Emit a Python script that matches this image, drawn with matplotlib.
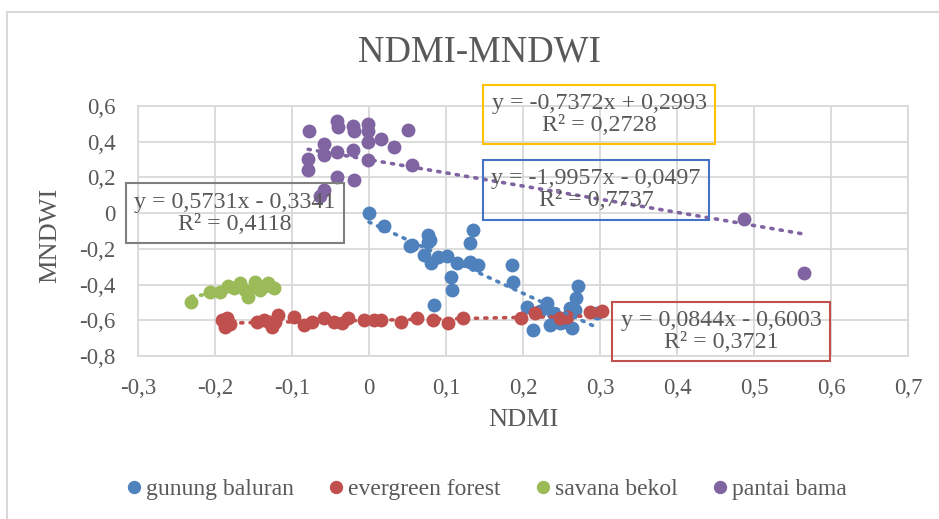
import numpy as np
import matplotlib
matplotlib.use('Agg')
import matplotlib.pyplot as plt
from matplotlib.patches import Rectangle
from matplotlib.ticker import FuncFormatter, MultipleLocator
from matplotlib.lines import Line2D

plt.rcParams['font.family'] = ['Liberation Serif', 'DejaVu Serif']

# series values
series_names = ['gunung baluran', 'evergreen forest', 'savana bekol', 'pantai bama']
series_colors = ['#4F81BD', '#C0504D', '#9BBB59', '#8064A2']

x_gb = [0.000, 0.020, 0.053, 0.056, 0.071, 0.076, 0.077, 0.079, 0.081, 0.084, 0.090, 0.101,
        0.106, 0.108, 0.114, 0.131, 0.131, 0.135, 0.141, 0.186, 0.187, 0.205, 0.213, 0.222,
        0.231, 0.235, 0.239, 0.242, 0.248, 0.252, 0.261, 0.263, 0.268, 0.269, 0.272, 0.296]
y_gb = [0.002, -0.072, -0.184, -0.180, -0.235, -0.123, -0.160, -0.150, -0.281, -0.514, -0.244, -0.240,
        -0.356, -0.430, -0.281, -0.272, -0.166, -0.095, -0.291, -0.290, -0.384, -0.523, -0.654, -0.550,
        -0.505, -0.626, -0.560, -0.570, -0.616, -0.607, -0.532, -0.644, -0.542, -0.477, -0.410, -0.560]

x_ef = [-0.191, -0.187, -0.185, -0.180, -0.146, -0.137, -0.130, -0.126, -0.122, -0.118, -0.098,
        -0.085, -0.074, -0.059, -0.046, -0.035, -0.027, -0.007, 0.006, 0.016, 0.042, 0.062,
        0.083, 0.102, 0.122, 0.197, 0.216, 0.248, 0.257, 0.287, 0.302]
y_ef = [-0.601, -0.635, -0.588, -0.620, -0.607, -0.598, -0.612, -0.635, -0.607, -0.570, -0.579,
        -0.626, -0.607, -0.588, -0.607, -0.616, -0.588, -0.601, -0.598, -0.601, -0.607, -0.588,
        -0.601, -0.616, -0.588, -0.588, -0.560, -0.588, -0.579, -0.555, -0.547]

x_sb = [-0.231, -0.206, -0.194, -0.183, -0.175, -0.168, -0.161, -0.157, -0.148, -0.146, -0.142,
        -0.135, -0.131, -0.124]
y_sb = [-0.495, -0.443, -0.440, -0.408, -0.420, -0.393, -0.430, -0.468, -0.384, -0.412, -0.430,
        -0.410, -0.393, -0.420]

x_pb = [-0.078, -0.042, -0.040, -0.021, -0.020, -0.001, -0.001, 0.050, -0.058, -0.059, -0.042,
        -0.021, -0.001, 0.016, 0.032, -0.079, -0.001, 0.056, -0.079, -0.042, -0.020, -0.058,
        -0.064, 0.487, 0.565]
y_pb = [0.460, 0.516, 0.480, 0.486, 0.460, 0.500, 0.460, 0.464, 0.390, 0.324, 0.342,
        0.356, 0.400, 0.417, 0.370, 0.305, 0.296, 0.268, 0.240, 0.203, 0.188, 0.128,
        0.095, -0.035, -0.333]

# trendline coefficients as printed on the chart
slopes = [-1.9957, 0.0844, 0.5731, -0.7372]
intercepts = [-0.0497, -0.6003, -0.3341, 0.2993]
r2 = [0.7737, 0.3721, 0.4118, 0.2728]

xs = [x_gb, x_ef, x_sb, x_pb]
ys = [y_gb, y_ef, y_sb, y_pb]

text_col = '#595959'
grid_col = '#D9D9D9'

fig = plt.figure(figsize=(9.39, 5.19), dpi=100)
fig.patches.append(Rectangle((7 / 939, -0.1), 1.0, (519 - 12) / 519 + 0.1,
                             transform=fig.transFigure, fill=False,
                             edgecolor=grid_col, lw=1.5))

ax = fig.add_axes([138 / 939, (519 - 356) / 519, 770 / 939, 250 / 519])
ax.set_xlim(-0.3, 0.7)
ax.set_ylim(-0.8, 0.6)
ax.xaxis.set_major_locator(MultipleLocator(0.1))
ax.yaxis.set_major_locator(MultipleLocator(0.2))


def comma_fmt(v, pos):
    v = round(v, 1)
    if v == 0:
        return '0'
    return f'{v:.1f}'.replace('.', ',')


ax.xaxis.set_major_formatter(FuncFormatter(comma_fmt))
ax.yaxis.set_major_formatter(FuncFormatter(comma_fmt))
ax.tick_params(length=0, labelsize=16.5, labelcolor=text_col)
ax.tick_params(axis='y', pad=16)
ax.tick_params(axis='x', pad=16)
ax.grid(True, color=grid_col, lw=1.3)
ax.set_axisbelow(True)
for s in ax.spines.values():
    s.set_color(grid_col)
    s.set_linewidth(1.3)

# markers first, in series order
for x, y, c in zip(xs, ys, series_colors):
    ax.scatter(x, y, s=100, color=c, linewidths=0, zorder=3)

# dotted trendlines on top
for x, m, b, c in zip(xs, slopes, intercepts, series_colors):
    tx = np.array([min(x), max(x)])
    ax.plot(tx, m * tx + b, color=c, lw=2.6, linestyle=(0, (0.6, 2.0)),
            dash_capstyle='round', zorder=4)


def eq_label(m, b, r):
    sign = '+' if b >= 0 else '-'
    eq = f'y = {m:.4f}x {sign} {abs(b):.4f}'.replace('.', ',')
    return eq + '\n' + f'R² = {r:.4f}'.replace('.', ',')


# label boxes: (series index, x, y, edge colour)
boxes = [(0, 0.295, 0.131, '#4472C4'),
         (1, 0.457, -0.663, '#C0504D'),
         (2, -0.174, 0.000, '#7F7F7F'),
         (3, 0.299, 0.553, '#FFC000')]
for i, bx, by, ec in boxes:
    ax.text(bx, by, eq_label(slopes[i], intercepts[i], r2[i]), ha='center', va='center',
            multialignment='center', fontsize=17.3, color=text_col, linespacing=1.05,
            zorder=5, bbox=dict(boxstyle='square,pad=0.35', fc='none', ec=ec, lw=1.5))

fig.text(479 / 939, 1 - 52 / 519, 'NDMI-MNDWI', ha='center', va='center',
         fontsize=26.5, color=text_col)
fig.text(523 / 939, 1 - 420 / 519, 'NDMI', ha='center', va='center',
         fontsize=19, color=text_col)
fig.text(50 / 939, 1 - 235 / 519, 'MNDWI', ha='center', va='center', rotation=90,
         fontsize=19, color=text_col)

handles = [Line2D([], [], marker='o', linestyle='none', markersize=9.6,
                  markerfacecolor=c, markeredgewidth=0) for c in series_colors]
fig.legend(handles, series_names, loc='center', bbox_to_anchor=(487 / 939, 1 - 489 / 519),
           ncol=4, frameon=False, fontsize=17, labelcolor=text_col,
           handlelength=0.6, handletextpad=0.2, columnspacing=1.5, borderpad=0)

fig.savefig('out.png', dpi=100)
